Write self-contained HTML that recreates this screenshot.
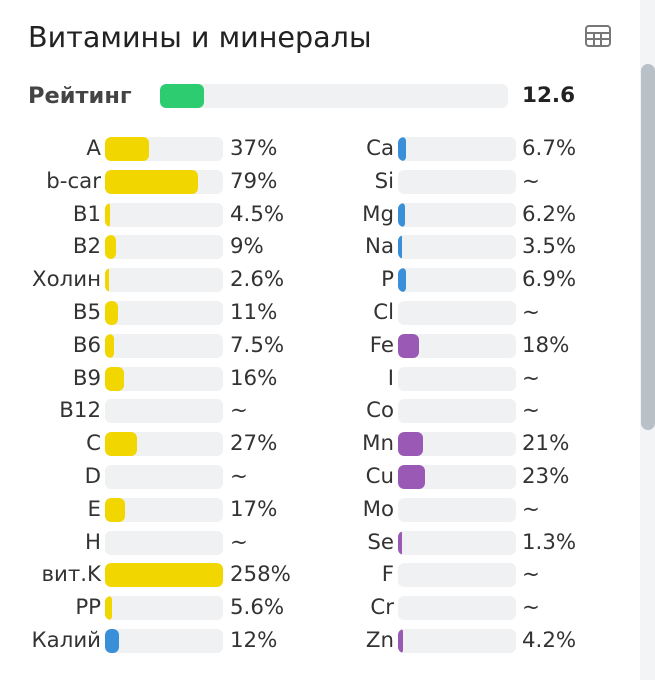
<!DOCTYPE html>
<html><head><meta charset="utf-8"><style>
body{margin:0;width:655px;height:680px;background:#fff;font-family:"DejaVu Sans","Liberation Sans",sans-serif;position:relative;overflow:hidden;color:#333}
.t{position:absolute;left:28px;top:20px;font-size:28.6px;color:#222}
.ic{position:absolute;left:585px;top:25px;width:26px;height:22px;border:2px solid #777;border-radius:4px;box-sizing:border-box;
background:linear-gradient(#777,#777) 0 5px/100% 2px no-repeat,linear-gradient(#777,#777) 0 11px/100% 2px no-repeat,linear-gradient(#777,#777) 6px 5px/2px 100% no-repeat,linear-gradient(#777,#777) 13px 5px/2px 100% no-repeat}
.sbt{position:absolute;left:640px;top:0;width:15px;height:680px;background:#f3f4f6}
.sb{position:absolute;left:641px;top:64px;width:14px;height:366px;background:#b8c0c8;border-radius:7px}
.r{position:absolute;font-size:21.3px;line-height:24px;white-space:nowrap}
.lab{position:absolute;text-align:right;width:100px}
.bar{position:absolute;height:24px;background:#f0f1f3;border-radius:6px;overflow:hidden}
.f{position:absolute;left:0;top:0;height:24px;border-radius:6px}
.y{background:#f2d600}.b{background:#3a8fd9}.p{background:#9b59b6}
</style></head><body>
<div class="t">Витамины и минералы</div>
<div class="ic"></div>
<div class="sbt"></div><div class="sb"></div>
<div class="r" style="left:28px;top:84px;font-size:22.5px;font-weight:bold;color:#444">Рейтинг</div>
<div class="bar" style="left:160px;top:84px;width:348px"><div class="f" style="width:44px;background:#2ecc71"></div></div>
<div class="r" style="left:522px;top:84px;font-size:21.5px;font-weight:bold;color:#222">12.6</div>
<div id="rows"></div>
<script>
var L=[["A",37,"37%"],["b-car",79,"79%"],["B1",4.5,"4.5%"],["B2",9,"9%"],["Холин",2.6,"2.6%"],["B5",11,"11%"],["B6",7.5,"7.5%"],["B9",16,"16%"],["B12",0,"~"],["C",27,"27%"],["D",0,"~"],["E",17,"17%"],["H",0,"~"],["вит.K",258,"258%"],["PP",5.6,"5.6%"],["Калий",12,"12%","b"]];
var R=[["Ca",6.7,"6.7%"],["Si",0,"~"],["Mg",6.2,"6.2%"],["Na",3.5,"3.5%"],["P",6.9,"6.9%"],["Cl",0,"~"],["Fe",18,"18%"],["I",0,"~"],["Co",0,"~"],["Mn",21,"21%"],["Cu",23,"23%"],["Mo",0,"~"],["Se",1.3,"1.3%"],["F",0,"~"],["Cr",0,"~"],["Zn",4.2,"4.2%"]];
var Rc=["b","","b","b","b","","p","","","p","p","","p","","","p"];
var h="";
function row(it,i,lx,bx,vx,c){var top=137+i*32.8;
h+='<div class="r lab" style="left:'+(lx-100)+'px;top:'+top+'px">'+it[0]+'</div>';
h+='<div class="bar" style="left:'+bx+'px;top:'+top+'px;width:118px">';
if(it[1]>0){var w=Math.max(4,Math.min(118,it[1]*1.18));h+='<div class="f '+c+'" style="width:'+w+'px"></div>';}
h+='</div><div class="r" style="left:'+vx+'px;top:'+top+'px">'+it[2]+'</div>';}
L.forEach(function(it,i){row(it,i,101,105,230,it[3]||"y")});
R.forEach(function(it,i){row(it,i,394,398,522,Rc[i])});
document.getElementById("rows").innerHTML=h;
</script>
</body></html>
